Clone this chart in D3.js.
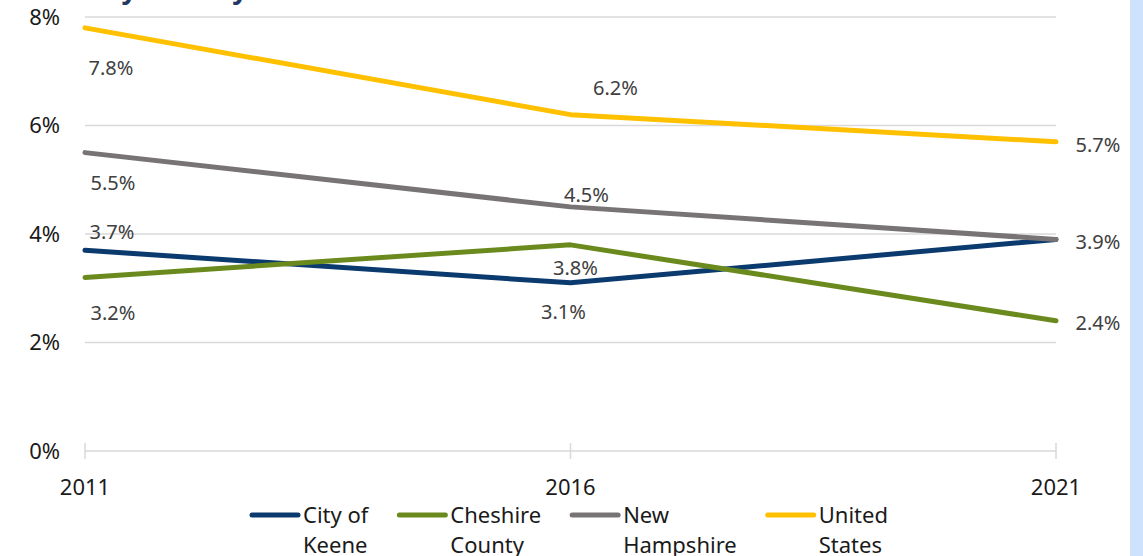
<!DOCTYPE html>
<html>
<head>
<meta charset="utf-8">
<script src="https://cdn.jsdelivr.net/npm/d3@7"></script>
<style>
  html, body { margin: 0; padding: 0; background: #ffffff; overflow: hidden; }
  svg { display: block; font-family: "Noto Sans", "Open Sans", sans-serif; }
</style>
</head>
<body>
<div id="chart"></div>
<script>
// data
const years = ['2011', '2016', '2021'];
const seriesNames = [['City of', 'Keene'], ['Cheshire', 'County'], ['New', 'Hampshire'], ['United', 'States']];
const cityOfKeene = [3.7, 3.1, 3.9];
const cheshireCounty = [3.2, 3.8, 2.4];
const newHampshire = [5.5, 4.5, 3.9];
const unitedStates = [7.8, 6.2, 5.7];
const yTicks = [0, 2, 4, 6, 8];
const colors = ['#0a3a6e', '#6b8a1e', '#787476', '#ffc000'];

// label offsets (dx, dy from the point), null = no label shown
const labelOffsets = [
  [[27, -18], [-7, 29], [42, 3]],
  [[28, 36], [5, 23], [42, 2]],
  [[28, 30], [16, -12], null],
  [[26, 40], [45, -27], [42, 3]]
];

const svgWidth = 1143;
const svgHeight = 556;
const margin = { left: 85, right: 87, top: 17, bottom: 105 };

const svg = d3.select('#chart')
  .append('svg')
  .attr('width', svgWidth)
  .attr('height', svgHeight);

// blue strip at the right edge
svg.append('rect')
  .attr('x', 1130).attr('y', 0)
  .attr('width', 13).attr('height', svgHeight)
  .attr('fill', '#cfe2fd');

// title, mostly cut off above the picture
svg.append('text')
  .attr('x', 48).attr('y', -1)
  .attr('font-size', 27)
  .attr('font-weight', 'bold')
  .attr('fill', '#1f3864')
  .text('Family Poverty');

const x = d3.scalePoint()
  .domain(years)
  .range([margin.left, svgWidth - margin.right]);

const y = d3.scaleLinear()
  .domain([0, 8])
  .range([svgHeight - margin.bottom + 0, margin.top]);

// gridlines
svg.append('g')
  .selectAll('line')
  .data(yTicks)
  .enter()
  .append('line')
  .attr('x1', margin.left)
  .attr('x2', svgWidth - margin.right)
  .attr('y1', d => y(d))
  .attr('y2', d => y(d))
  .attr('stroke', '#d9d9d9')
  .attr('stroke-width', 1.5);

// y axis labels
svg.append('g')
  .selectAll('text')
  .data(yTicks)
  .enter()
  .append('text')
  .attr('x', 60)
  .attr('y', d => y(d))
  .attr('dy', '0.35em')
  .attr('text-anchor', 'end')
  .attr('font-size', 22)
  .attr('fill', '#1a1a1a')
  .text(d => d + '%');

// x axis ticks and labels
const xAxis = svg.append('g');
xAxis.selectAll('line')
  .data(years)
  .enter()
  .append('line')
  .attr('x1', d => x(d))
  .attr('x2', d => x(d))
  .attr('y1', y(0) - 8)
  .attr('y2', y(0) + 8)
  .attr('stroke', '#d9d9d9')
  .attr('stroke-width', 1.5);
xAxis.selectAll('text')
  .data(years)
  .enter()
  .append('text')
  .attr('x', d => x(d))
  .attr('y', y(0) + 44)
  .attr('text-anchor', 'middle')
  .attr('font-size', 22)
  .attr('fill', '#1a1a1a')
  .text(d => d);

const allSeries = [cityOfKeene, cheshireCounty, newHampshire, unitedStates];

const line = d3.line()
  .x((d, i) => x(years[i]))
  .y(d => y(d));

// draw lines
svg.append('g')
  .selectAll('path')
  .data(allSeries)
  .enter()
  .append('path')
  .attr('d', d => line(d))
  .attr('fill', 'none')
  .attr('stroke', (d, i) => colors[i])
  .attr('stroke-width', 5)
  .attr('stroke-linecap', 'round')
  .attr('stroke-linejoin', 'round');

// data labels
const labels = svg.append('g');
allSeries.forEach((values, s) => {
  values.forEach((v, i) => {
    const off = labelOffsets[s][i];
    if (!off) return;
    labels.append('text')
      .attr('x', x(years[i]) + off[0])
      .attr('y', y(v) + off[1])
      .attr('dy', '0.35em')
      .attr('text-anchor', 'middle')
      .attr('font-size', 20)
      .attr('fill', '#404040')
      .text(v.toFixed(1) + '%');
  });
});

// legend
const legend = svg.append('g');
let lx = 252;
seriesNames.forEach((name, i) => {
  const g = legend.append('g');
  g.append('line')
    .attr('x1', lx).attr('x2', lx + 46)
    .attr('y1', 515).attr('y2', 515)
    .attr('stroke', colors[i])
    .attr('stroke-width', 5)
    .attr('stroke-linecap', 'round');
  const t1 = g.append('text')
    .attr('x', lx + 51).attr('y', 515)
    .attr('dy', '0.35em')
    .attr('font-size', 22)
    .attr('fill', '#1a1a1a')
    .text(name[0]);
  const t2 = g.append('text')
    .attr('x', lx + 51).attr('y', 545)
    .attr('dy', '0.35em')
    .attr('font-size', 22)
    .attr('fill', '#1a1a1a')
    .text(name[1]);
  const w = Math.max(t1.node().getComputedTextLength(), t2.node().getComputedTextLength());
  lx += w + 82;
});
</script>
</body>
</html>
